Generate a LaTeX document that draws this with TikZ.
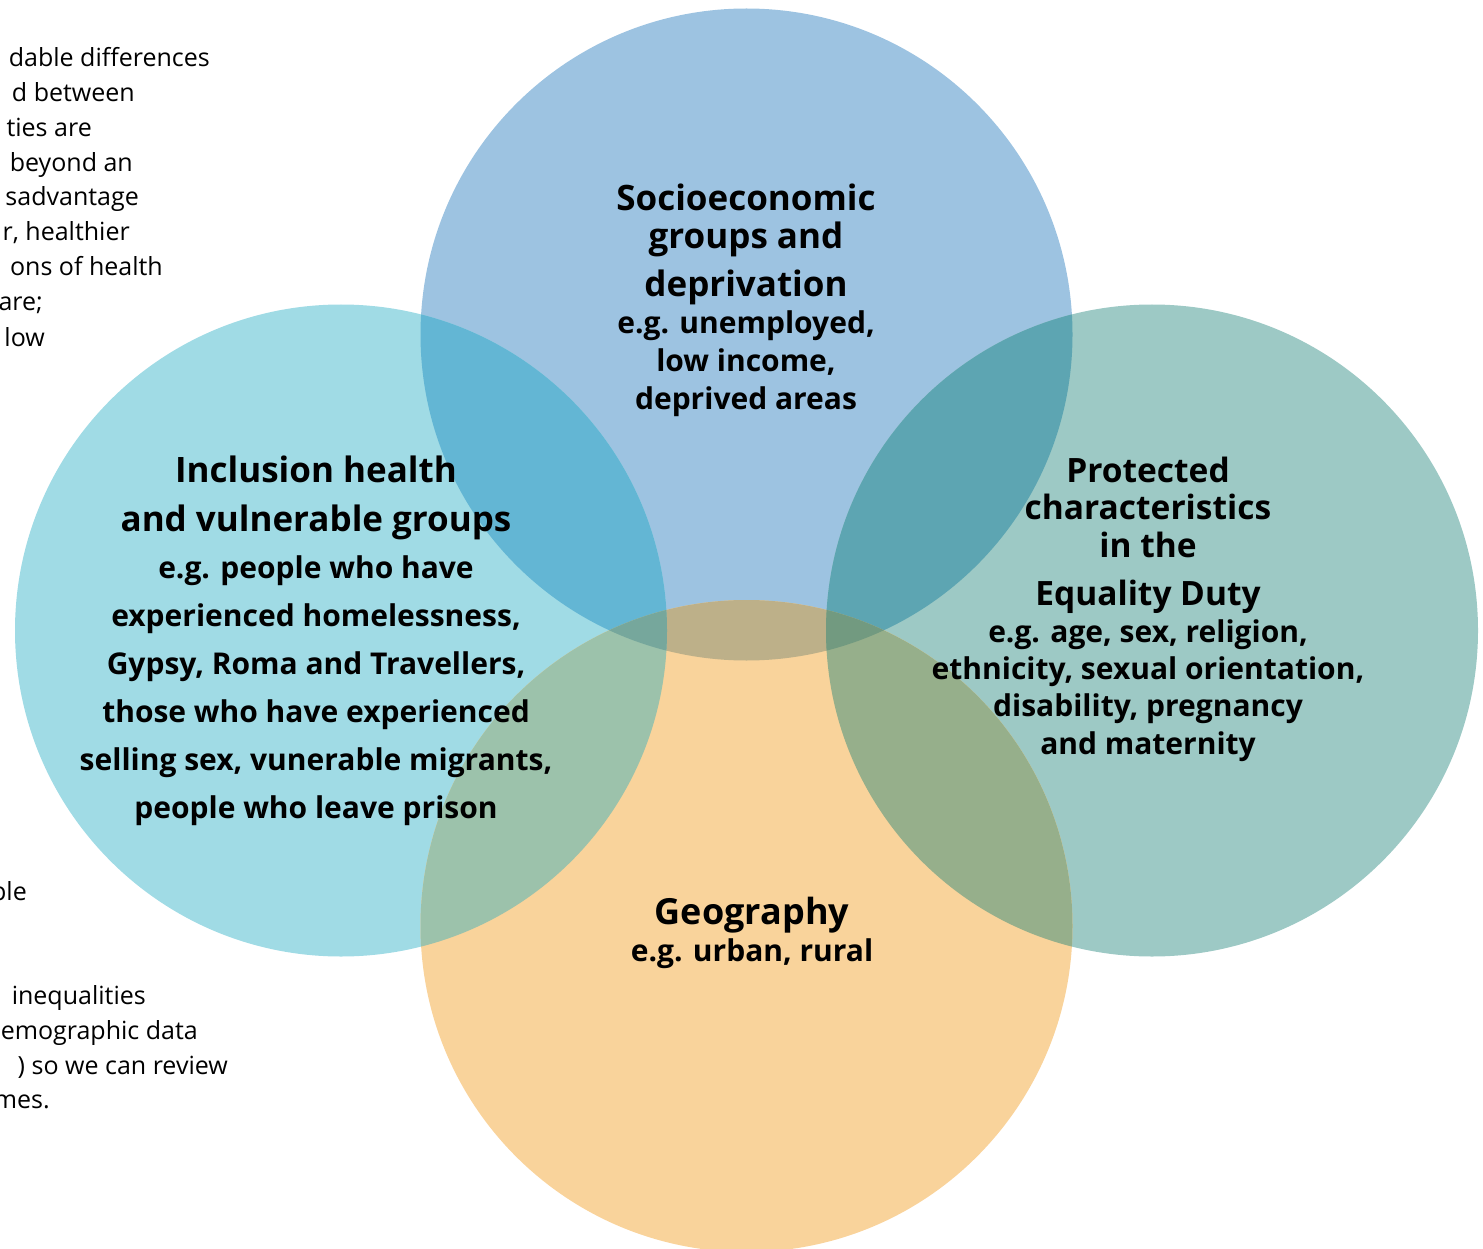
\documentclass[tikz,border=0pt]{standalone}
\usepackage{fontspec}
\setmainfont{Open Sans}
\usepackage{tikz}

\definecolor{socblue}{RGB}{157,195,225}
\definecolor{inclcyan}{RGB}{160,219,229}
\definecolor{protteal}{RGB}{157,201,197}
\definecolor{geosand}{RGB}{249,211,155}
\definecolor{socincl}{RGB}{99,182,212}
\definecolor{socprot}{RGB}{93,165,178}
\definecolor{socgeo}{RGB}{189,176,137}
\definecolor{inclgeo}{RGB}{156,194,171}
\definecolor{protgeo}{RGB}{150,175,139}
\definecolor{socinclgeo}{RGB}{118,167,156}
\definecolor{socprotgeo}{RGB}{114,154,128}

\begin{document}
\begin{tikzpicture}[x=1pt,y=-1pt,
     head/.style={font=\fontsize{35}{35}\selectfont\bfseries,anchor=base,inner sep=0pt},
     sub/.style={font=\fontsize{30}{30}\selectfont\bfseries,anchor=base,inner sep=0pt},
     body/.style={font=\fontsize{25}{25}\selectfont,anchor=base east,inner sep=0pt}
     ]
   \useasboundingbox (0,0) rectangle (1483,1249);
   \clip (0,0) rectangle (1483,1249);
   \def\R{326pt}

   % centres of the four circles
   \coordinate (soc)  at (746.5,334.5);
   \coordinate (incl) at (341,630.5);
   \coordinate (prot) at (1152,630.5);
   \coordinate (geo)  at (746.5,926);

   % plain discs first, then the overlaps on top of them
   \fill[socblue]  (soc)  circle[radius=\R];
   \fill[inclcyan] (incl) circle[radius=\R];
   \fill[protteal] (prot) circle[radius=\R];
   \fill[geosand]  (geo)  circle[radius=\R];

   \foreach \a/\b/\col in {soc/incl/socincl,
                           soc/prot/socprot,
                           soc/geo/socgeo,
                           incl/geo/inclgeo,
                           prot/geo/protgeo}
   {
     \begin{scope}
       \clip (\a) circle[radius=\R];
       \fill[\col] (\b) circle[radius=\R];
     \end{scope}
   }

   \foreach \b/\col in {incl/socinclgeo, prot/socprotgeo}
   {
     \begin{scope}
       \clip (soc) circle[radius=\R];
       \clip (geo) circle[radius=\R];
       \fill[\col] (\b) circle[radius=\R];
     \end{scope}
   }

   % labels: y is the baseline of each line
   \foreach \y/\desc [count=\n] in {211/{Socioeconomic},
                                   249/{groups and},
                                   297/{deprivation}}
     \node[head] (soch\n) at (746,\y) {\desc};
   \foreach \y/\desc [count=\n] in {334/{e.g. unemployed,},
                                   371/{low income,},
                                   409/{deprived areas}}
     \node[sub] (socs\n) at (746,\y) {\desc};

   \foreach \y/\desc [count=\n] in {482/{Inclusion health},
                                   531/{and vulnerable groups}}
     \node[head] (inclh\n) at (316,\y) {\desc};
   \foreach \y/\desc [count=\n] in {578/{e.g. people who have},
                                   626/{experienced homelessness,},
                                   674/{Gypsy, Roma and Travellers,},
                                   722/{those who have experienced},
                                   770/{selling sex, vunerable migrants,},
                                   818/{people who leave prison}}
     \node[sub] (incls\n) at (316,\y) {\desc};

   \foreach \y/\desc [count=\n] in {482/{Protected},
                                   519/{characteristics},
                                   557/{in the},
                                   605/{Equality Duty}}
     \node[head,font=\fontsize{33.5}{33.5}\selectfont\bfseries] (proth\n) at (1148,\y) {\desc};
   \foreach \y/\desc [count=\n] in {642/{e.g. age, sex, religion,},
                                   679/{ethnicity, sexual orientation,},
                                   716/{disability, pregnancy},
                                   754/{and maternity}}
     \node[sub] (prots\n) at (1148,\y) {\desc};

   \node[head,font=\fontsize{36}{36}\selectfont\bfseries] (geoh) at (752,924) {Geography};
   \node[sub] (geos) at (752,961) {e.g. urban, rural};

   % body text of the page, cut at the left edge; x is the right end
   \foreach \x/\y/\desc [count=\n] in {210/67/{dable differences},
                                      135/102/{d between},
                                      92/137/{ties are},
                                      133/172/{beyond an},
                                      139/206/{sadvantage},
                                      130/241/{r, healthier},
                                      163/276/{ons of health},
                                      43/311/{are;},
                                      45/346/{low},
                                      27/900/{ple},
                                      146/1004/{inequalities},
                                      198/1039/{emographic data},
                                      228/1074/{) so we can review},
                                      50/1108/{mes.}}
     \node[body] (txt\n) at (\x,\y) {\desc};
 \end{tikzpicture}
\end{document}
